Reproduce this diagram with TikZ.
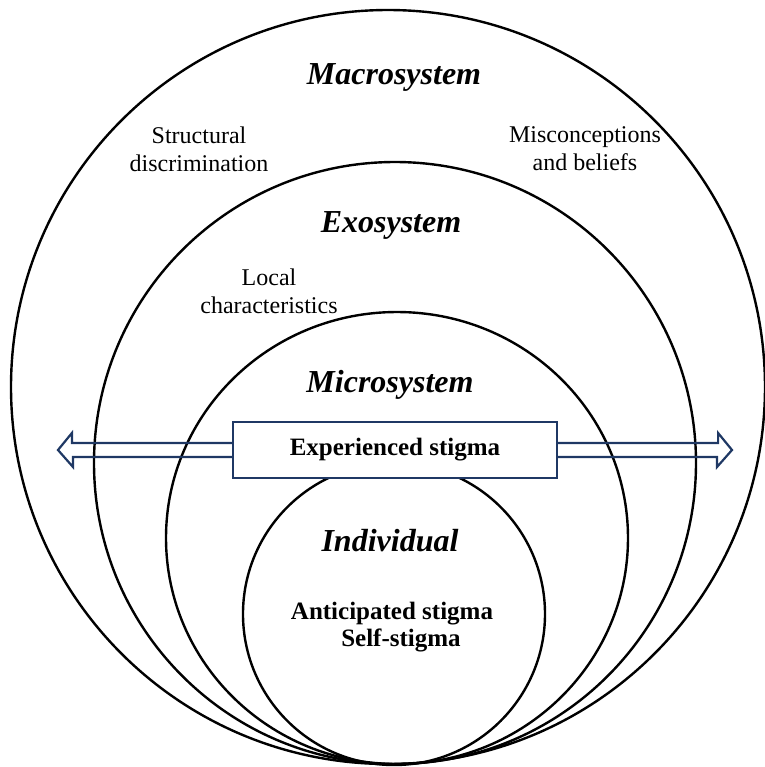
\documentclass[tikz,border=0pt]{standalone}
\usepackage{fontspec}
\setmainfont{Liberation Serif}
\usepackage{xcolor}
\definecolor{navy}{HTML}{1F3864}

\tikzset{
  ring/.style={line width=1.2pt},
  level/.style={font=\fontsize{16}{19}\selectfont\bfseries\itshape},
  factor/.style={font=\fontsize{12}{14}\selectfont,align=center},
  stigma/.style={font=\fontsize{12.5}{13.5}\selectfont\bfseries,align=center},
  arrowline/.style={draw=navy,line width=1.1pt,line join=miter}
}

\begin{document}
\begin{tikzpicture}[x=0.5pt,y=-0.5pt]
        \useasboundingbox (0,0) rectangle (765,767);
        % 四个圆
        \draw[ring] (388,387) circle[radius=377];
        \draw[ring] (395,463) circle[radius=301];
        \draw[ring] (397,538) ellipse[x radius=231,y radius=226];
        \draw[ring] (394,614) circle[radius=151];
        \node[level] (macro) at (394,77) {Macrosystem};
        \node[factor] (struct) at (199,149) {Structural\\discrimination};
        \node[factor] (misc) at (585,149) {Misconceptions\\and beliefs};
        \node[level] (exo) at (391,225) {Exosystem};
        \node[factor] (local) at (269,291) {Local\\characteristics};
        \node[level] (micro) at (390,385) {Microsystem};
        \node[level] (indiv) at (390,541) {Individual};
        \node[stigma] (antic) at (392,627) {Anticipated stigma\\\hspace*{9pt}Self-stigma};
        \node[stigma,draw=navy,line width=1.1pt,fill=white,minimum width=162pt,minimum height=28pt,inner sep=0pt] (exp) at (395,450) {Experienced stigma};
        \coordinate (ltip) at (58,450);
        \coordinate (rtip) at (732,450);
        \draw[arrowline] ([yshift=3.5pt]exp.west) -- ++(-160,0) -- ++(0,-10) -- (ltip) -- ++(15,17) -- ++(0,-10) -- ([yshift=-3.5pt]exp.west);
        \draw[arrowline] ([yshift=3.5pt]exp.east) -- ++(160,0) -- ++(0,-10) -- (rtip) -- ++(-15,17) -- ++(0,-10) -- ([yshift=-3.5pt]exp.east);
    \end{tikzpicture}
\end{document}
